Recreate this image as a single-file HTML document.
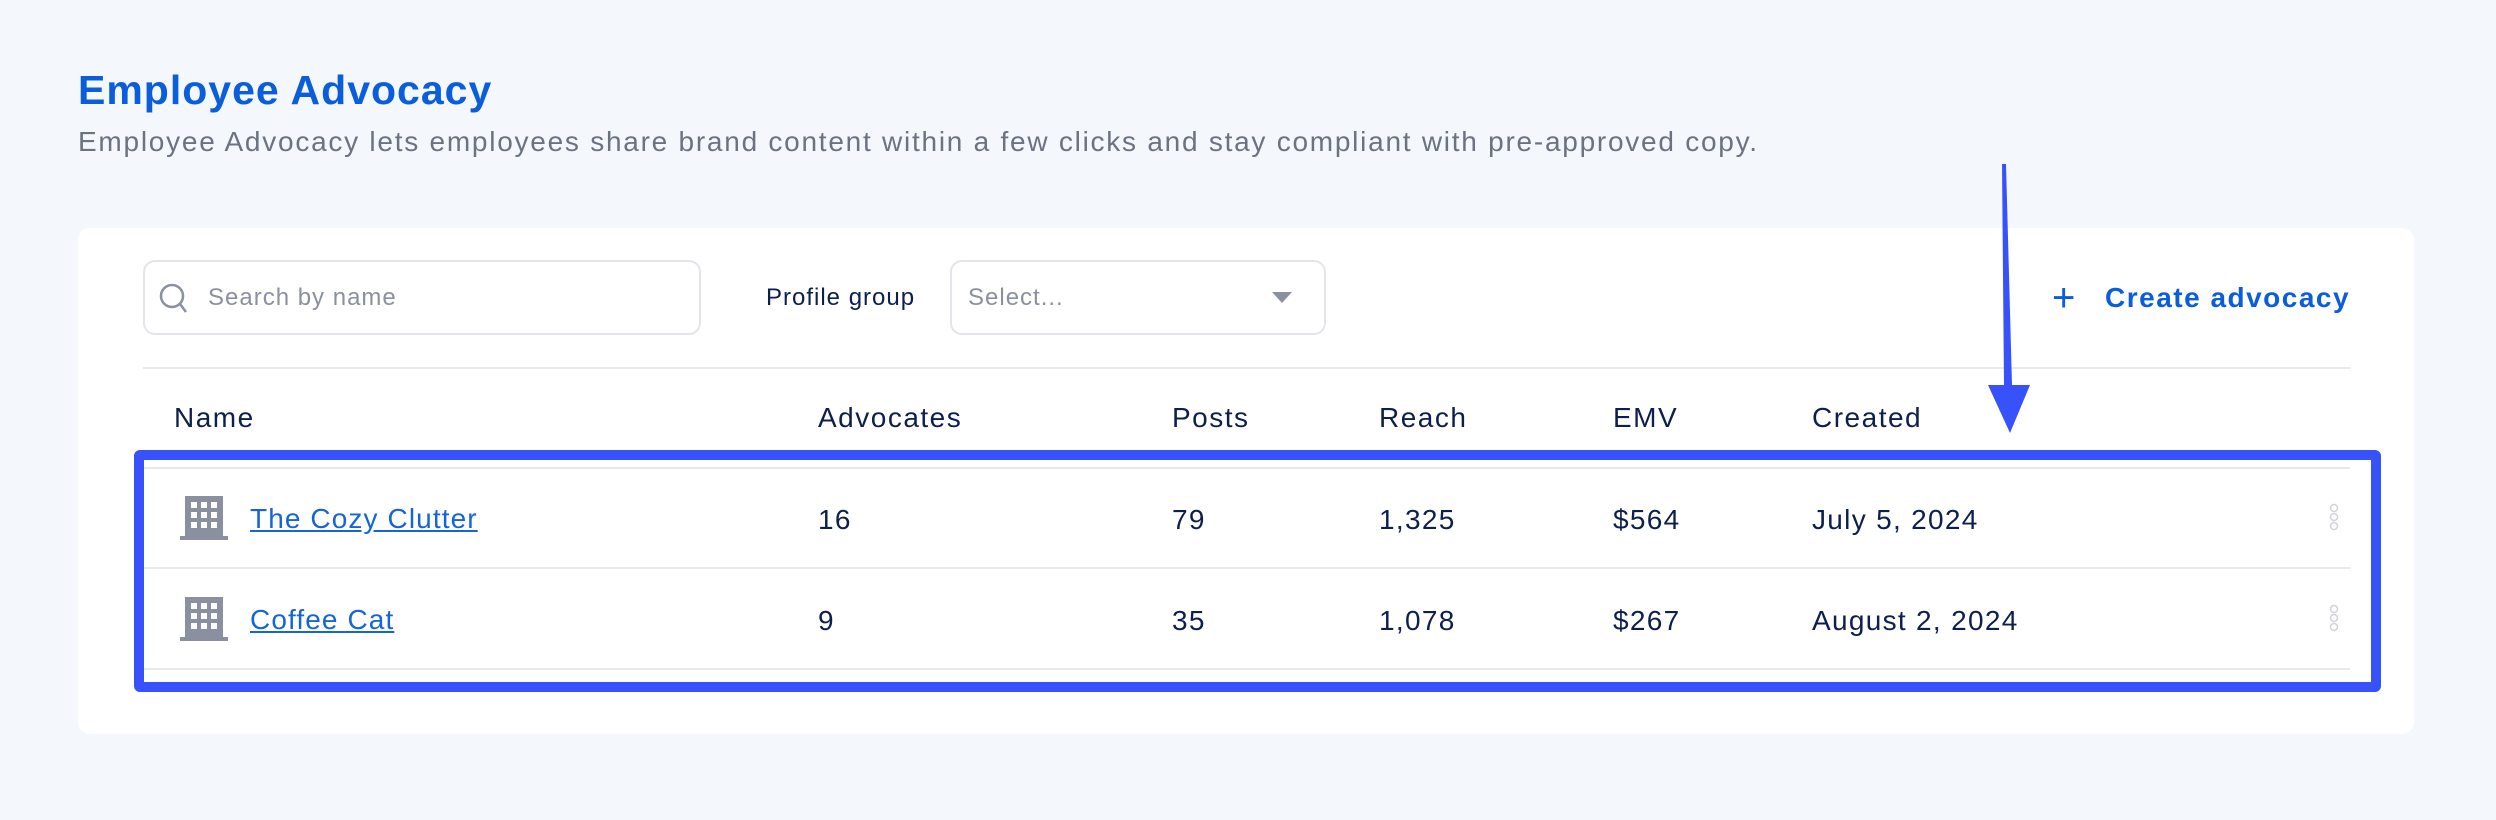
<!DOCTYPE html>
<html><head><meta charset="utf-8"><style>
*{margin:0;padding:0;box-sizing:border-box}
body{width:2496px;height:820px;background:#f4f7fc;font-family:"Liberation Sans",sans-serif;position:relative;overflow:hidden;color:#0d1f4c}
.a{position:absolute;white-space:nowrap}
h1{position:absolute;left:78px;top:67px;font-size:41px;color:#0a5ddb;font-weight:bold;letter-spacing:1px}
.sub{left:78px;top:126px;font-size:28px;color:#6b7280;letter-spacing:1.75px}
.card{position:absolute;left:78px;top:228px;width:2336px;height:506px;background:#fff;border-radius:12px}
.box{position:absolute;border:2px solid #e3e5ea;border-radius:12px;background:#fff}
.hd{font-size:28px;top:402px;color:#0d1f4c;letter-spacing:1.5px}
.cell{font-size:28px;color:#0d1f4c;letter-spacing:1.3px}
.line{position:absolute;height:2px;background:#e8e9ec;left:143px;width:2207px}
.lnk{font-size:28px;color:#1565d8;text-decoration:underline;letter-spacing:1.1px}
</style></head><body>
<h1>Employee Advocacy</h1>
<div class="a sub">Employee Advocacy lets employees share brand content within a few clicks and stay compliant with pre-approved copy.</div>
<div class="card"></div>
<div class="box" style="left:143px;top:260px;width:558px;height:75px"></div>
<svg class="a" style="left:158px;top:282px" width="32" height="34"><circle cx="14" cy="14" r="11" fill="none" stroke="#8a90a0" stroke-width="2.5"/><line x1="22" y1="22" x2="28" y2="30" stroke="#8a90a0" stroke-width="2.5"/></svg>
<div class="a" style="left:208px;top:284px;font-size:24px;color:#8a90a0;letter-spacing:1px">Search by name</div>
<div class="a" style="left:766px;top:284px;font-size:24px;color:#0d1f4c;letter-spacing:1px">Profile group</div>
<div class="box" style="left:950px;top:260px;width:376px;height:75px"></div>
<div class="a" style="left:968px;top:284px;font-size:24px;color:#8a90a0;letter-spacing:1px">Select...</div>
<svg class="a" style="left:1272px;top:292px" width="20" height="12"><polygon points="0,0 20,0 10,11" fill="#8a90a0"/></svg>
<div class="a" style="left:2052px;top:276px;font-size:40px;color:#0a5ddb;font-weight:300">+</div>
<div class="a" style="left:2105px;top:282px;font-size:28px;color:#0a5ddb;font-weight:bold;letter-spacing:1.5px">Create advocacy</div>
<div class="line" style="top:367px"></div>
<div class="a hd" style="left:174px">Name</div>
<div class="a hd" style="left:818px">Advocates</div>
<div class="a hd" style="left:1172px">Posts</div>
<div class="a hd" style="left:1379px">Reach</div>
<div class="a hd" style="left:1613px">EMV</div>
<div class="a hd" style="left:1812px">Created</div>
<div class="line" style="top:467px"></div>
<div class="line" style="top:567px"></div>
<div class="line" style="top:668px"></div>
<svg class="a" style="left:180px;top:494px" width="50" height="48"><rect x="5" y="2" width="38" height="40" fill="#8a90a0"/><rect x="0" y="42" width="48" height="4" fill="#8a90a0"/><g fill="#fff"><rect x="11" y="8" width="6" height="6"/><rect x="21" y="8" width="6" height="6"/><rect x="31" y="8" width="6" height="6"/><rect x="11" y="18" width="6" height="6"/><rect x="21" y="18" width="6" height="6"/><rect x="31" y="18" width="6" height="6"/><rect x="11" y="28" width="6" height="6"/><rect x="21" y="28" width="6" height="6"/><rect x="31" y="28" width="6" height="6"/></g></svg>
<svg class="a" style="left:180px;top:595px" width="50" height="48"><rect x="5" y="2" width="38" height="40" fill="#8a90a0"/><rect x="0" y="42" width="48" height="4" fill="#8a90a0"/><g fill="#fff"><rect x="11" y="8" width="6" height="6"/><rect x="21" y="8" width="6" height="6"/><rect x="31" y="8" width="6" height="6"/><rect x="11" y="18" width="6" height="6"/><rect x="21" y="18" width="6" height="6"/><rect x="31" y="18" width="6" height="6"/><rect x="11" y="28" width="6" height="6"/><rect x="21" y="28" width="6" height="6"/><rect x="31" y="28" width="6" height="6"/></g></svg>
<div class="a lnk" style="left:250px;top:503px">The Cozy Clutter</div>
<div class="a lnk" style="left:250px;top:604px">Coffee Cat</div>
<div class="a cell" style="left:818px;top:504px">16</div>
<div class="a cell" style="left:1172px;top:504px">79</div>
<div class="a cell" style="left:1379px;top:504px">1,325</div>
<div class="a cell" style="left:1613px;top:504px">$564</div>
<div class="a cell" style="left:1812px;top:504px">July 5, 2024</div>
<div class="a cell" style="left:818px;top:605px">9</div>
<div class="a cell" style="left:1172px;top:605px">35</div>
<div class="a cell" style="left:1379px;top:605px">1,078</div>
<div class="a cell" style="left:1613px;top:605px">$267</div>
<div class="a cell" style="left:1812px;top:605px">August 2, 2024</div>
<svg class="a" style="left:2326px;top:503px" width="16" height="30"><g fill="none" stroke="#d0d3d9" stroke-width="1.5"><circle cx="8" cy="5" r="3.5"/><circle cx="8" cy="14" r="3.5"/><circle cx="8" cy="23" r="3.5"/></g></svg>
<svg class="a" style="left:2326px;top:604px" width="16" height="30"><g fill="none" stroke="#d0d3d9" stroke-width="1.5"><circle cx="8" cy="5" r="3.5"/><circle cx="8" cy="14" r="3.5"/><circle cx="8" cy="23" r="3.5"/></g></svg>
<div class="a" style="left:134px;top:450px;width:2247px;height:242px;border:10px solid #3752fb;border-radius:6px"></div>
<svg class="a" style="left:0;top:0" width="2496" height="820"><polygon points="2002,164 2006,164 2012,385 2030,385 2010,433 1988,385 2004,385" fill="#3752fb"/></svg>
</body></html>
